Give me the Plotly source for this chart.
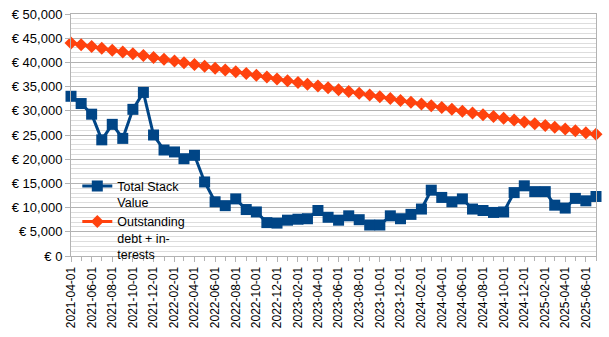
import plotly.graph_objects as go
import pandas as pd

dates = pd.date_range("2021-04-01", "2025-07-01", freq="MS").strftime("%Y-%m-%d").tolist()

stack_value = [33000, 31500, 29300, 24000, 27200, 24300, 30300, 33800, 25000, 21900,
               21500, 20100, 20800, 15300, 11200, 10400, 11800, 9600, 9100, 6900,
               6800, 7400, 7600, 7700, 9400, 8000, 7400, 8300, 7500, 6400,
               6400, 8300, 7700, 8600, 9700, 13600, 12100, 11200, 11800, 9700,
               9400, 9000, 9100, 13100, 14500, 13300, 13300, 10500, 9900, 11900,
               11400, 12300]

debt = [44000, 43650, 43270, 42900, 42520, 42150, 41780, 41400, 41030, 40660,
        40290, 39920, 39550, 39180, 38810, 38440, 38070, 37700, 37330, 36960,
        36590, 36220, 35850, 35480, 35110, 34740, 34370, 34000, 33630, 33260,
        32890, 32520, 32150, 31780, 31410, 31040, 30670, 30300, 29930, 29560,
        29190, 28820, 28450, 28080, 27710, 27340, 26970, 26600, 26230, 25860,
        25490, 25150]

name_stack = "Total Stack<br>Value"
name_debt = "Outstanding<br>debt + in-<br>terests"

BLUE = "#004586"
ORANGE = "#ff420e"

fig = go.Figure()
fig.add_trace(go.Scatter(
    x=dates, y=stack_value, name=name_stack, mode="lines+markers",
    line=dict(color=BLUE, width=3),
    marker=dict(symbol="square", size=11, color=BLUE, line=dict(width=0)),
    cliponaxis=False,
))
fig.add_trace(go.Scatter(
    x=dates, y=debt, name=name_debt, mode="lines+markers",
    line=dict(color=ORANGE, width=3),
    marker=dict(symbol="diamond", size=10, color=ORANGE, line=dict(width=0)),
    cliponaxis=False,
))

# white backdrop behind the legend (covers gridlines, not the data)
fig.add_shape(type="rect", xref="paper", yref="paper",
              x0=0.004, x1=0.232, y0=0.0, y1=0.328,
              fillcolor="white", line=dict(width=0), layer="between")

fig.update_layout(
    width=609, height=337,
    margin=dict(l=71, r=13, t=14, b=81, autoexpand=False),
    paper_bgcolor="white", plot_bgcolor="white",
    font=dict(family="Liberation Sans, Arial, sans-serif", size=13, color="#000000"),
    showlegend=True,
    legend=dict(
        x=0.012, y=0.35, xanchor="left", yanchor="top",
        bgcolor="rgba(255,255,255,0)", borderwidth=0,
        font=dict(size=12.5), valign="top",
        tracegroupgap=0, itemwidth=30,
    ),
)

fig.update_xaxes(
    type="date",
    range=[dates[0], dates[-1]],
    tickformat="%Y-%m-%d",
    dtick="M2", tick0=dates[0],
    tickangle=-90,
    ticks="outside", ticklen=5, tickcolor="#b3b3b3",
    showgrid=False, automargin=False,
    showline=True, linecolor="#b3b3b3", linewidth=1, mirror=True,
    tickfont=dict(size=12),
    minor=dict(dtick="M1", ticks="outside", ticklen=4, tickcolor="#b3b3b3", showgrid=False),
)

fig.update_yaxes(
    range=[0, 50000],
    dtick=5000, tick0=0,
    tickprefix="€ ", tickformat=",",
    ticks="outside", ticklen=5, tickcolor="#b3b3b3",
    showgrid=True, gridcolor="#b3b3b3", gridwidth=1,
    showline=True, linecolor="#b3b3b3", linewidth=1, mirror=True,
    zeroline=False, automargin=False,
    tickfont=dict(size=13),
    minor=dict(dtick=1000, showgrid=True, gridcolor="#dddddd", gridwidth=1),
)

fig.write_html("out.html")
